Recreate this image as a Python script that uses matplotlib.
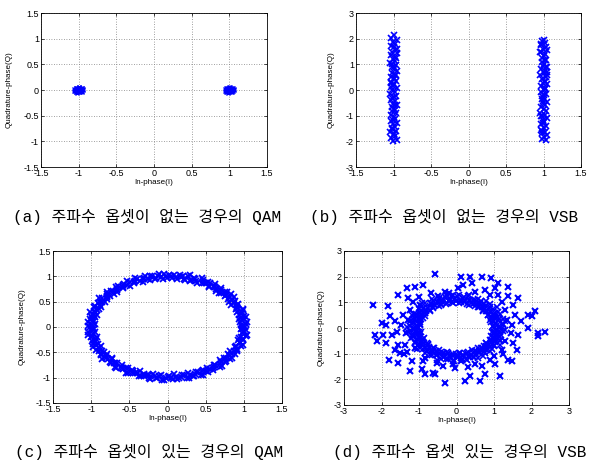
import numpy as np
import matplotlib
matplotlib.use("Agg")
import matplotlib.pyplot as plt

plt.rcParams['axes.unicode_minus'] = False
plt.rcParams['font.family'] = ['Liberation Sans', 'DejaVu Sans']

# ---------------- data ----------------
# (a) QAM, no frequency offset: two tight clusters
a_centers = [-1.0, 1.0]
a_dx = [-0.05, -0.03, 0.0, 0.03, 0.05, -0.04, -0.01, 0.02, 0.04, -0.06, 0.06, -0.02, 0.01, 0.03, -0.03,
        0.0, 0.05, -0.05, 0.02, -0.01, 0.04, -0.04, 0.01, -0.02, 0.03, 0.0, -0.06, 0.06, 0.02, -0.03]
a_dy = [0.0, 0.03, -0.04, 0.02, -0.01, -0.03, 0.04, 0.01, -0.03, 0.01, 0.0, -0.05, 0.05, -0.02, 0.02,
        -0.02, 0.03, -0.02, -0.04, 0.01, 0.03, 0.04, -0.01, 0.03, 0.0, 0.05, -0.01, 0.02, 0.04, -0.04]

# (b) VSB, no frequency offset: two vertical stripes
b_left_y = [2.14, 2.02, 1.95, 1.88, 1.8, 1.71, 1.66, 1.57, 1.49, 1.43, 1.35, 1.27, 1.2, 1.13, 1.04, 0.98,
            0.9, 0.83, 0.74, 0.68, 0.6, 0.52, 0.46, 0.37, 0.31, 0.22, 0.16, 0.07, 0.01, -0.08, -0.14,
            -0.23, -0.29, -0.38, -0.44, -0.53, -0.59, -0.68, -0.74, -0.83, -0.89, -0.98, -1.04, -1.13,
            -1.19, -1.28, -1.34, -1.43, -1.49, -1.58, -1.64, -1.73, -1.79, -1.86, -1.93, -1.99, 0.42,
            -0.31, 1.24, -1.52, 0.88, -0.79, 0.12, 1.61, -1.18, 0.57, 0.27, -0.6, 1.0, -1.7]
b_right_y = [1.96, 1.9, 1.83, 1.76, 1.69, 1.61, 1.54, 1.47, 1.39, 1.32, 1.25, 1.18, 1.1, 1.03, 0.95, 0.88,
             0.81, 0.73, 0.66, 0.58, 0.51, 0.44, 0.36, 0.29, 0.22, 0.14, 0.07, -0.01, -0.08, -0.15, -0.23,
             -0.3, -0.37, -0.45, -0.52, -0.59, -0.67, -0.74, -0.81, -0.89, -0.96, -1.03, -1.11, -1.18,
             -1.25, -1.33, -1.4, -1.47, -1.55, -1.62, -1.69, -1.77, -1.84, -1.91, -1.95, 1.5, 0.33, -0.42,
             1.15, -1.0, 0.6, -1.6, 0.9, -0.2, 1.8, 0.05, -1.3, 0.7]
b_dx = [0.01, -0.03, 0.04, -0.01, 0.02, -0.04, 0.0, 0.03, -0.02, 0.045, -0.035, 0.015, -0.005, 0.025, -0.045,
        0.035, -0.015, 0.005, 0.04, -0.025, 0.02, -0.04, 0.01, 0.03, -0.03, 0.0, -0.01, 0.045, -0.02, 0.015,
        -0.045, 0.035, 0.005, -0.035, 0.025, -0.005, 0.04, -0.025, 0.01, -0.015, 0.03, -0.04, 0.0, 0.02,
        -0.03, 0.045, -0.01, 0.015, -0.02, 0.035, -0.045, 0.005, 0.025, -0.035, 0.04, -0.005, 0.01, -0.025,
        0.03, -0.015, 0.0, 0.02, -0.04, 0.045, -0.01, 0.035, -0.03, 0.015, -0.02, 0.005]

# (c) QAM with frequency offset: ring (angle in degrees, radius), two interleaved passes
c_angle = [0, 2.4, 5.1, 7.6, 9.8, 12.5, 15.2, 17.4, 20.1, 22.6, 25.0, 27.3, 30.2, 32.4, 35.1, 37.7, 39.8,
           42.6, 45.1, 47.3, 50.0, 52.7, 55.2, 57.4, 60.1, 62.3, 65.0, 67.8, 70.2, 72.4, 75.1, 77.5, 80.0,
           82.6, 85.3, 87.4, 90.1, 92.5, 95.2, 97.3, 100.0, 102.7, 105.1, 107.4, 110.2, 112.6, 115.0, 117.3,
           120.1, 122.8, 125.2, 127.4, 130.0, 132.6, 135.3, 137.5, 140.1, 142.4, 145.0, 147.7, 150.2, 152.5,
           155.1, 157.3, 160.0, 162.8, 165.2, 167.4, 170.1, 172.6, 175.0, 177.5, 180.2, 182.4, 185.1, 187.6,
           190.0, 192.3, 195.2, 197.6, 200.1, 202.4, 205.0, 207.7, 210.3, 212.5, 215.1, 217.4, 220.0, 222.6,
           225.2, 227.5, 230.1, 232.3, 235.0, 237.8, 240.2, 242.5, 245.1, 247.4, 250.0, 252.6, 255.3, 257.5,
           260.1, 262.4, 265.0, 267.6, 270.2, 272.5, 275.1, 277.3, 280.0, 282.7, 285.2, 287.4, 290.1, 292.5,
           295.0, 297.3, 300.2, 302.6, 305.1, 307.4, 310.0, 312.7, 315.3, 317.5, 320.1, 322.4, 325.0, 327.6,
           330.2, 332.5, 335.1, 337.4, 340.0, 342.7, 345.2, 347.3, 350.1, 352.6, 355.0, 357.4]
c_r = [1.02, 0.97, 1.04, 0.99, 0.95, 1.03, 1.0, 0.96, 1.05, 0.98, 1.01, 0.94, 1.03, 1.0, 0.97, 1.05, 0.99, 1.02, 0.96, 1.04,
       0.98, 1.01, 0.95, 1.03, 1.0, 0.97, 1.06, 0.99, 1.02, 0.96, 1.04, 0.98, 1.0, 0.95, 1.03, 1.01, 0.97, 1.05, 0.99, 1.02,
       0.96, 1.04, 0.98, 1.01, 0.94, 1.03, 1.0, 0.97, 1.05, 0.99, 1.02, 0.96, 1.04, 0.98, 1.01, 0.95, 1.03, 1.0, 0.97, 1.06,
       0.99, 1.02, 0.96, 1.04, 0.98, 1.0, 0.95, 1.03, 1.01, 0.97, 1.05, 0.99, 1.02, 0.96, 1.04, 0.98, 1.01, 0.94, 1.03, 1.0,
       0.97, 1.05, 0.99, 1.02, 0.96, 1.04, 0.98, 1.01, 0.95, 1.03, 1.0, 0.97, 1.06, 0.99, 1.02, 0.96, 1.04, 0.98, 1.0, 0.95,
       1.03, 1.01, 0.97, 1.05, 0.99, 1.02, 0.96, 1.04, 0.98, 1.01, 0.94, 1.03, 1.0, 0.97, 1.05, 0.99, 1.02, 0.96, 1.04, 0.98,
       1.01, 0.95, 1.03, 1.0, 0.97, 1.06, 0.99, 1.02, 0.96, 1.04, 0.98, 1.0, 0.95, 1.03, 1.01, 0.97, 1.05, 0.99, 1.02, 0.96,
       1.04, 0.98, 1.01, 0.97]
c_angle2 = [1.3, 3.6, 6.3, 8.7, 11.2, 13.8, 16.3, 18.9, 21.3, 23.8, 26.2, 28.7, 31.3, 33.8, 36.4, 38.7, 41.2, 43.9,
            46.2, 48.6, 51.3, 53.9, 56.3, 58.8, 61.2, 63.7, 66.4, 68.9, 71.3, 73.7, 76.3, 78.8, 81.3, 83.9, 86.2,
            88.8, 91.3, 93.7, 96.4, 98.6, 101.3, 103.9, 106.2, 108.8, 111.4, 113.7, 116.2, 118.7, 121.4, 123.9,
            126.3, 128.7, 131.3, 133.8, 136.4, 138.8, 141.2, 143.7, 146.3, 148.9, 151.3, 153.8, 156.2, 158.7,
            161.4, 163.9, 166.3, 168.8, 171.3, 173.7, 176.2, 178.8, 181.3, 183.7, 186.4, 188.9, 191.2, 193.7,
            196.3, 198.8, 201.2, 203.7, 206.4, 208.9, 211.4, 213.8, 216.2, 218.7, 221.3, 223.9, 226.3, 228.8,
            231.2, 233.7, 236.4, 238.9, 241.3, 243.8, 246.2, 248.7, 251.3, 253.9, 256.4, 258.8, 261.2, 263.7,
            266.3, 268.9, 271.3, 273.8, 276.2, 278.7, 281.4, 283.9, 286.3, 288.8, 291.2, 293.7, 296.2, 298.8,
            301.4, 303.8, 306.2, 308.7, 311.3, 313.9, 316.4, 318.8, 321.2, 323.7, 326.3, 328.9, 331.4, 333.8,
            336.2, 338.7, 341.3, 343.9, 346.4, 348.6, 351.2, 353.8, 356.3, 358.7]
c_r2 = [0.98, 1.03, 0.95, 1.01, 1.05, 0.97, 1.02, 1.04, 0.96, 1.0, 1.03, 0.99, 0.95, 1.05, 1.01, 0.97, 1.04, 0.98, 1.02, 0.96,
        1.0, 1.05, 0.97, 1.03, 0.99, 1.04, 0.95, 1.01, 0.98, 1.06, 0.96, 1.02, 1.04, 0.99, 0.97, 1.03, 1.0, 0.95, 1.05, 0.98,
        1.02, 0.96, 1.04, 1.0, 0.97, 1.05, 0.99, 1.01, 0.95, 1.03, 0.98, 1.04, 1.0, 0.96, 1.02, 1.05, 0.97, 0.99, 1.03, 0.95,
        1.01, 0.98, 1.04, 0.96, 1.02, 1.05, 0.99, 0.97, 1.03, 1.0, 0.95, 1.04, 0.98, 1.01, 0.96, 1.05, 1.02, 0.97, 0.99, 1.03,
        1.0, 0.95, 1.04, 0.98, 1.02, 0.96, 1.06, 1.0, 0.97, 1.03, 0.99, 1.04, 0.95, 1.01, 0.98, 1.05, 0.96, 1.02, 1.0, 1.03,
        0.97, 0.99, 1.04, 0.95, 1.02, 0.98, 1.05, 1.0, 0.96, 1.03, 0.99, 1.01, 0.97, 1.04, 0.95, 1.02, 1.0, 0.98, 1.05, 0.96,
        1.03, 0.99, 1.01, 0.97, 1.04, 1.0, 0.95, 1.02, 0.98, 1.05, 0.96, 1.03, 0.99, 1.01, 0.97, 1.04, 1.0, 0.96, 1.02, 0.98,
        1.05, 0.99, 1.03, 0.97]

# (d) VSB with frequency offset: dense inner ring + scattered outer points
d_ring_r = [1.0, 1.15, 0.97, 1.25, 1.08, 1.32, 1.02, 1.18, 0.96, 1.12, 1.28, 1.05, 1.2, 0.98, 1.1, 1.35, 1.03, 1.22, 1.0, 1.14,
            1.06, 1.3, 0.99, 1.17, 1.09, 1.26, 1.04, 1.19, 0.97, 1.13, 1.33, 1.07, 1.21, 1.01, 1.11, 1.27, 1.05, 1.16, 0.98, 1.24,
            1.08, 1.31, 1.02, 1.18, 1.1, 1.23, 0.99, 1.15, 1.29, 1.06, 1.2, 1.03, 1.12, 1.34, 1.0, 1.17, 1.09, 1.25, 1.04, 1.14,
            0.97, 1.22, 1.07, 1.3, 1.01, 1.16, 1.11, 1.27, 0.98, 1.19, 1.05, 1.33, 1.02, 1.13, 1.24, 1.08, 0.96, 1.21, 1.1, 1.28,
            1.03, 1.15, 0.99, 1.26, 1.06, 1.18, 1.12, 1.32, 1.0, 1.2, 1.04, 1.14, 1.29, 0.97, 1.09, 1.23, 1.07, 1.17, 1.01, 1.35,
            1.05, 1.19, 0.98, 1.25, 1.11, 1.16, 1.03, 1.3, 1.08, 1.13, 0.99, 1.22, 1.06, 1.28, 1.02, 1.18, 1.1, 1.24, 0.96, 1.15,
            1.04, 1.31, 1.07, 1.2, 1.0, 1.12, 1.27, 1.05, 1.17, 0.98, 1.23, 1.09, 1.33, 1.01, 1.14, 1.26, 1.03, 1.19, 1.08, 1.21,
            0.97, 1.16, 1.06, 1.29]
d_ring_r2 = [1.12, 0.98, 1.24, 1.05, 1.17, 0.96, 1.29, 1.08, 1.2, 1.01, 1.14, 1.26, 0.99, 1.1, 1.22, 1.04, 1.16, 0.97, 1.28, 1.07,
             1.19, 1.02, 1.13, 1.25, 1.0, 1.09, 1.21, 1.06, 1.15, 0.96, 1.27, 1.03, 1.18, 1.11, 0.98, 1.23, 1.05, 1.3, 1.0, 1.14,
             1.08, 1.2, 0.97, 1.16, 1.26, 1.04, 1.12, 0.99, 1.22, 1.07, 1.17, 1.01, 1.28, 1.1, 0.96, 1.19, 1.05, 1.24, 1.02, 1.13,
             1.09, 1.27, 0.98, 1.15, 1.06, 1.21, 1.0, 1.18, 1.11, 0.97, 1.25, 1.03, 1.16, 1.08, 1.29, 1.01, 1.12, 0.99, 1.2, 1.06,
             1.14, 0.96, 1.23, 1.04, 1.17, 1.1, 0.98, 1.26, 1.02, 1.15, 1.07, 1.21, 1.0, 1.13, 1.28, 1.05, 0.97, 1.19, 1.09, 1.24,
             1.03, 1.16, 0.99, 1.22, 1.11, 1.06, 1.27, 1.01, 1.14, 0.96, 1.18, 1.08, 1.25, 1.04, 1.12, 0.98, 1.2, 1.07, 1.3, 1.02,
             1.15, 1.1, 0.97, 1.23, 1.05, 1.17, 1.0, 1.26, 1.13, 0.99, 1.21, 1.06, 1.16, 1.03, 1.28, 1.09, 0.96, 1.19, 1.04, 1.14,
             1.01, 1.24, 1.08, 1.18]
d_out = [(-2.22, 0.88), (-2.0, 0.19), (-1.87, 0.13), (-1.82, 0.84), (-2.18, -0.26), (-2.13, -0.52), (-1.89, -0.58),
         (-1.8, -1.23), (-1.56, -1.35), (-1.64, -0.84), (-1.6, -0.17), (-1.64, 0.26), (-1.42, 0.52), (-1.56, 1.29),
         (-1.33, 1.55), (-1.11, 1.61), (-0.89, 1.68), (-1.16, 1.03), (-1.16, -0.32), (-1.38, -0.65), (-1.33, -0.93),
         (-1.11, -0.77), (-1.24, -1.68), (-0.93, -1.61), (-0.84, -1.81), (-0.58, -1.81), (-0.31, -2.13), (-0.36, -1.48),
         (-0.04, -1.55), (0.13, -1.29), (0.22, -2.06), (0.36, -1.87), (0.62, -2.06), (0.76, -1.81), (0.89, -1.23),
         (1.02, -1.42), (1.16, -1.87), (1.24, -1.03), (1.38, -1.23), (1.47, -1.29), (1.6, -0.84), (1.51, -0.58),
         (1.64, -0.26), (1.73, 0.26), (1.56, 0.52), (1.91, 0.52), (2.09, 0.65), (2.0, 0.45), (1.91, 0.0), (2.18, -0.19),
         (2.36, -0.17), (2.18, -0.32), (1.64, 1.16), (1.38, 1.23), (1.11, 1.29), (1.38, 1.61), (0.93, 1.94), (0.67, 2.0),
         (0.36, 2.0), (0.13, 2.0), (-0.58, 2.09), (0.4, 1.74), (0.76, 1.48), (1.02, 1.55), (1.2, 1.03), (-0.31, 1.42),
         (-0.49, 1.23), (-0.67, 1.35), (0.04, 1.55), (0.18, 1.68), (-1.29, 1.16), (-0.98, 0.9), (-1.56, -0.65),
         (-1.51, -0.97), (-0.84, -1.16), (-1.2, -1.29), (-0.53, -1.35), (-0.62, -1.74), (0.67, -1.48), (1.2, -0.84),
         (1.47, 0.13), (1.51, 0.9), (1.29, 0.71), (1.11, 1.74), (-1.78, 0.45), (-1.47, 0.13), (-1.73, -0.26),
         (-1.96, -0.26), (-1.3, 0.3), (-1.35, -0.2), (-1.25, 0.7), (-0.9, -1.3), (0.5, -1.4), (1.3, -0.5), (1.35, 0.3),
         (0.5, 1.4), (-0.2, 1.35), (-1.0, 1.2), (0.9, 1.3), (1.0, -1.1), (-1.4, -1.0), (-0.1, -1.4), (0.3, -1.5),
         (1.45, -0.2)]

ticks_15 = [-1.5, -1, -0.5, 0, 0.5, 1, 1.5]
ticks_3 = [-3, -2, -1, 0, 1, 2, 3]

captions = ["(a) 주파수 옵셋이 없는 경우의 QAM",
            "(b) 주파수 옵셋이 없는 경우의 VSB",
            "(c) 주파수 옵셋이 있는 경우의 QAM",
            "(d) 주파수 옵셋 있는 경우의 VSB"]

# ---------------- figure ----------------
W, H = 597, 468
fig = plt.figure(figsize=(W / 100, H / 100), dpi=100)

def axes_px(l, t, r, b):
    return fig.add_axes([l / W, 1 - b / H, (r - l) / W, (b - t) / H])

mk = dict(linestyle='none', marker='x', color='#0000ff')

def style(ax, xt, yt, ylab_off, w_px, h_px):
    ax.set_xlim(xt[0], xt[-1])
    ax.set_ylim(yt[0], yt[-1])
    ax.set_xticks(xt)
    ax.set_yticks(yt)
    ax.set_xticklabels(['%g' % v for v in xt])
    ax.set_yticklabels(['%g' % v for v in yt])
    ax.tick_params(direction='in', length=2.5, width=0.5, labelsize=6.5, pad=1.5,
                   top=True, right=True, colors='black')
    ax.grid(True, linestyle=(0, (1, 2)), color='#808080', linewidth=0.6)
    ax.set_axisbelow(True)
    for s in ax.spines.values():
        s.set_linewidth(0.6)
    ax.set_xlabel('In-phase(I)', fontsize=5.8)
    ax.set_ylabel('Quadrature-phase(Q)', fontsize=5.8)
    ax.xaxis.set_label_coords(0.5, -12 / h_px)
    ax.yaxis.set_label_coords(-ylab_off / w_px, 0.5)

def ring(ax, ang, rad, **kw):
    n = min(len(ang), len(rad))
    th = np.deg2rad(ang[:n])
    r = np.array(rad[:n])
    ax.plot(r * np.cos(th), r * np.sin(th), **kw)

# (a)
axa = axes_px(41, 13, 267, 167)
for c in a_centers:
    axa.plot(np.array(a_dx) + c, a_dy, ms=3.5, mew=1.0, **mk)
style(axa, ticks_15, ticks_15, 28, 226, 154)

# (b)
axb = axes_px(356, 13, 581, 167)
n = min(len(b_left_y), len(b_dx))
axb.plot(-1 + np.array(b_dx[:n]), b_left_y[:n], ms=4, mew=1.2, **mk)
n = min(len(b_right_y), len(b_dx))
axb.plot(1 + np.array(b_dx[::-1][:n]), b_right_y[:n], ms=4, mew=1.2, **mk)
style(axb, ticks_15, ticks_3, 21, 225, 154)

# (c)
axc = axes_px(53, 251, 282, 403)
ring(axc, c_angle, c_r, ms=4.5, mew=1.3, **mk)
ring(axc, c_angle2, c_r2, ms=4.5, mew=1.3, **mk)
style(axc, ticks_15, ticks_15, 27, 229, 152)

# (d)
axd = axes_px(344, 251, 569, 405)
ring(axd, c_angle, d_ring_r, ms=4, mew=1.2, **mk)
ring(axd, c_angle2, d_ring_r2, ms=4, mew=1.2, **mk)
ox, oy = zip(*d_out)
axd.plot(ox, oy, ms=4, mew=1.5, **mk)
style(axd, ticks_3, ticks_3, 19, 225, 154)

# captions
cap_font = ['Liberation Mono', 'Noto Sans CJK KR']
cap_pos = [(13, 217), (310, 217), (15, 452), (333, 452)]
for (x, y), txt in zip(cap_pos, captions):
    fig.text(x / W, 1 - y / H, txt, fontsize=11.5, family=cap_font, ha='left', va='center')

fig.savefig('out.png', dpi=100)
